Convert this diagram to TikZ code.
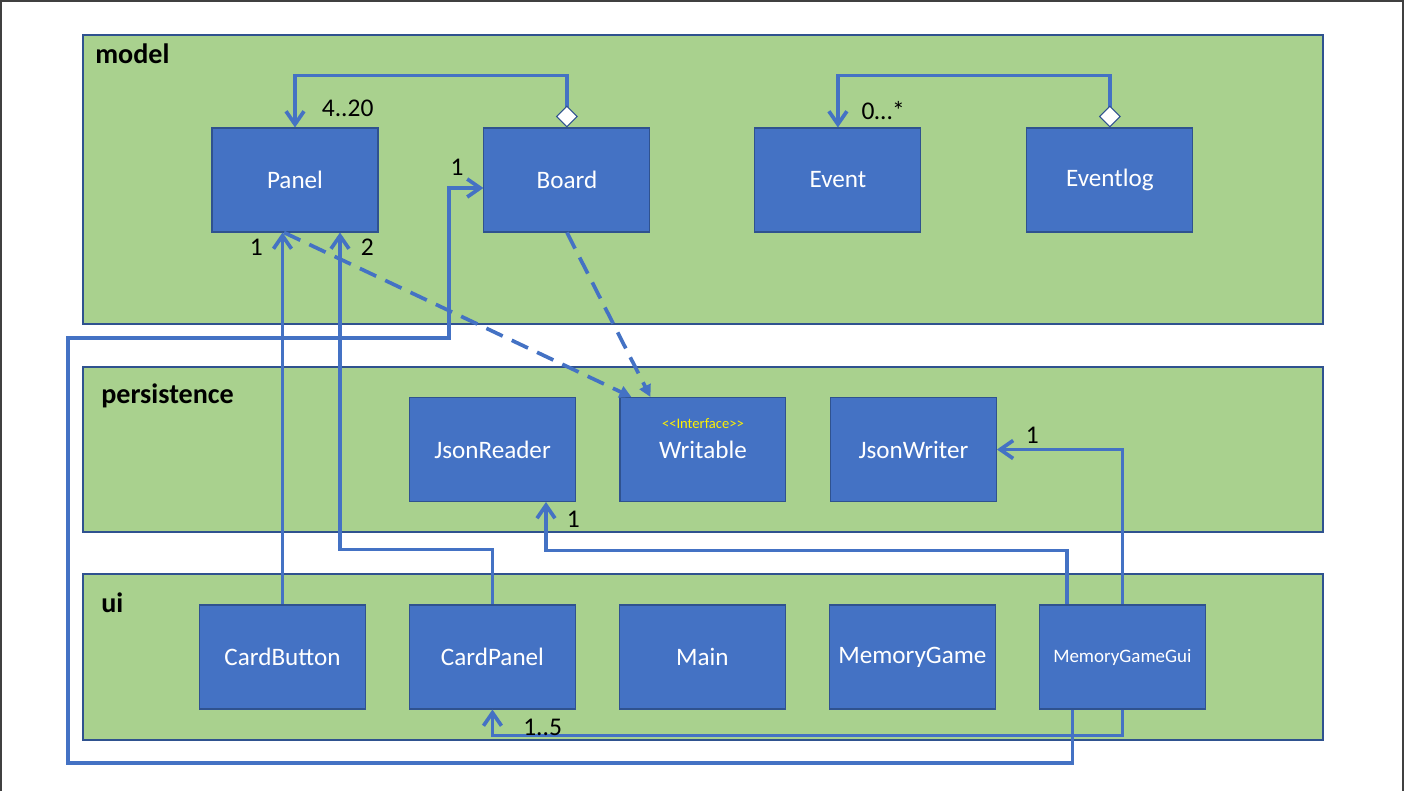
\documentclass[tikz,border=0pt]{standalone}
\usepackage{fontspec}
\setmainfont{Carlito}
\newfontfamily\plainfont{Carlito}
\usetikzlibrary{positioning, arrows.meta}

\definecolor{umlblue}{HTML}{4472C4}
\definecolor{umledge}{HTML}{2F528F}
\definecolor{pkggreen}{HTML}{A9D18E}

\tikzset{
  pkg/.style={fill=pkggreen, draw=umledge, line width=0.6pt},
  pkglabel/.style={anchor=base west, inner sep=0pt, font=\fontsize{16}{19}\selectfont\bfseries},
  cls/.style={rectangle, fill=umlblue, draw=umledge, line width=0.6pt,
    minimum width=3.32cm, minimum height=2.08cm, inner sep=0pt,
    text=white, font=\fontsize{14.3}{17}\selectfont},
  assoc/.style={draw=umlblue, line width=2.1pt, -{Straight Barb[length=0.26cm,width=0.36cm]}},
  aggr/.style={assoc, {Diamond[color=umledge, fill=white, line width=0.6pt, length=0.44cm, width=0.44cm]}-{Straight Barb[length=0.26cm,width=0.36cm]}},
  dep/.style={draw=umlblue, line width=2.1pt, dash pattern=on 0.36cm off 0.2cm, -{Triangle[length=0.24cm,width=0.24cm]}},
  mult/.style={inner sep=0pt, font=\fontsize{14.5}{17}\selectfont},
  iface/.style={inner sep=0pt, text=yellow, font=\plainfont\fontsize{8.3}{10}\selectfont},
  frame/.style={draw=black!75, line width=1.2pt}
}

\begin{document}
\begin{tikzpicture}[x=0.02cm, y=-0.02cm, node distance=4.21cm, on grid]
   \useasboundingbox (0,0) rectangle (1405,791);
   \draw[frame] (1,791) -- (1,1) -- (1403,1) -- (1403,791);

   % packages
   \draw[pkg] (83,35) rectangle (1323,324);
   \draw[pkg] (83,367) rectangle (1323,532);
   \draw[pkg] (83,574) rectangle (1323,740);
   \node[pkglabel] (lblModel) at (95,63) {model};
   \node[pkglabel] (lblPersistence) at (101,403) {persistence};
   \node[pkglabel] (lblUi) at (101,612) {ui};

   % model
   \node[cls] (Panel) at (295,180) {Panel};
   \node[cls, right=5.44cm of Panel] (Board) {Board};
   \node[cls, right=5.42cm of Board] (Event) {Event};
   \node[cls, right=5.44cm of Event] (Eventlog) {Eventlog};

   % persistence
   \node[cls] (JsonReader) at (492.5,449.5) {JsonReader};
   \node[cls, right=of JsonReader] (Writable) {Writable};
   \node[cls, right=of Writable] (JsonWriter) {JsonWriter};
   \node[iface] (wrIface) at ([yshift=0.51cm]Writable.center) {<<Interface>>};

   % ui
   \node[cls] (CardButton) at (282.5,657) {CardButton};
   \node[cls, right=4.2cm of CardButton] (CardPanel) {CardPanel};
   \node[cls, right=4.2cm of CardPanel] (Main) {Main};
   \node[cls, right=4.2cm of Main] (MemoryGame) {MemoryGame};
   \node[cls, right=4.2cm of MemoryGame, font=\fontsize{10.8}{13}\selectfont] (MemoryGameGui) {MemoryGameGui};

   \coordinate (guiLow) at (68,763);
   \coordinate (guiHigh) at (449,338);

   \draw[aggr] (Board.north) -- ++(0,-52) -| (Panel.north)
      node[mult, anchor=south west, xshift=0.5cm, yshift=0.18cm] (mPanel) {4..20};
   \draw[aggr] (Eventlog.north) -- ++(0,-52) -| (Event.north)
      node[mult, anchor=south west, xshift=0.44cm, yshift=0.12cm] (mEvent) {0…*};
   \draw[assoc] (CardButton.north) -- (CardButton.north |- Panel.south)
      node[mult, anchor=north east, xshift=-0.36cm, yshift=-0.1cm] (mButton) {1};
   \draw[assoc] (CardPanel.north) -- ++(0,-55) -| ([xshift=0.9cm]Panel.south)
      node[mult, anchor=north west, xshift=0.38cm, yshift=-0.1cm] (mCardPanel) {2};
   \draw[assoc] ([xshift=-1cm]MemoryGameGui.south) |- (guiLow) |- (guiHigh) |- ([yshift=-0.16cm]Board.west)
      node[mult, anchor=south east, xshift=-0.36cm, yshift=0.22cm] (mBoard) {1};
   \draw[assoc] ([xshift=-1.11cm]MemoryGameGui.north) -- ++(0,-54) -| ([xshift=1.07cm]JsonReader.south)
      node[mult, anchor=north west, xshift=0.38cm, yshift=-0.14cm] (mReader) {1};
   \draw[assoc] (MemoryGameGui.north) |- (JsonWriter.east)
      node[mult, anchor=south west, xshift=0.54cm, yshift=0.09cm] (mWriter) {1};
   \draw[assoc] (MemoryGameGui.south) -- ++(0,26) -| (CardPanel.south)
      node[mult, anchor=north west, xshift=0.58cm, yshift=-0.16cm] (mGui) {1..5};

   \draw[dep] ([xshift=-0.22cm]Panel.south) -- ([xshift=0.24cm]Writable.north west);
   \draw[dep] (Board.south) -- ([xshift=0.62cm]Writable.north west);
\end{tikzpicture}
\end{document}
